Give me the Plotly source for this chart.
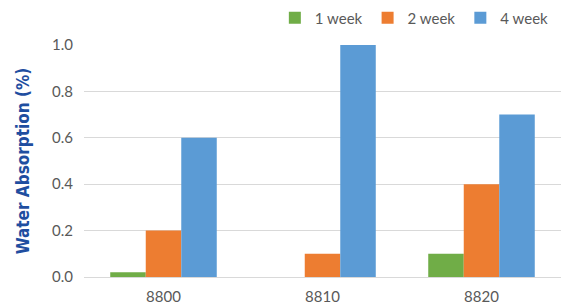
import plotly.graph_objects as go

categories = ["8800", "8810", "8820"]
series_names = ["1 week", "2 week", "4 week"]
week1 = [0.02, 0.0, 0.10]
week2 = [0.20, 0.10, 0.40]
week4 = [0.60, 1.00, 0.70]
colors = ["#70AD47", "#ED7D31", "#5B9BD5"]
y_ticks = [0.0, 0.2, 0.4, 0.6, 0.8, 1.0]
y_tick_labels = ["0.0", "0.2", "0.4", "0.6", "0.8", "1.0"]

fig = go.Figure()
for name, vals, col in zip(series_names, [week1, week2, week4], colors):
    fig.add_trace(go.Bar(x=categories, y=vals, name=name, marker=dict(color=col, line=dict(width=0))))

fig.update_layout(
    width=561, height=306,
    margin=dict(l=84, r=0, t=45, b=29, autoexpand=False),
    paper_bgcolor="white", plot_bgcolor="white",
    barmode="group", bargap=0.33, bargroupgap=0,
    font=dict(family="Lato", size=15, color="#595959"),
    legend=dict(orientation="h", x=0.985, xanchor="right", y=1.116, yanchor="middle",
                font=dict(size=15, color="#595959"), itemwidth=30, traceorder="normal"),
    xaxis=dict(type="category", range=[-0.5, 2.5], showgrid=False, showline=True, automargin=False,
               linecolor="#D9D9D9", linewidth=1, ticks="", ticklabelstandoff=6,
               tickfont=dict(size=15, color="#595959")),
    yaxis=dict(range=[0, 1.0], tickvals=y_ticks, ticktext=y_tick_labels, automargin=False,
               showgrid=True, gridcolor="#D9D9D9", gridwidth=1, zeroline=False,
               showline=False, ticks="", ticklen=0, ticklabelstandoff=10,
               tickfont=dict(size=15, color="#595959"),
               title=dict(text="<b>Water Absorption (%)</b>", standoff=18,
                          font=dict(family="DejaVu Sans Condensed", size=17, color="#1F4EA0"))),
)

fig.write_html(
    "out.html",
    config={"responsive": False, "displayModeBar": False},
    post_script="document.body.style.margin='0';document.body.style.padding='0';document.body.style.overflow='hidden';",
)
